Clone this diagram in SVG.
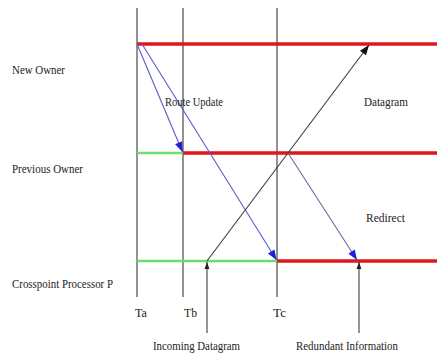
<svg xmlns="http://www.w3.org/2000/svg" width="437" height="355" viewBox="0 0 437 355">
<defs>
<style>
text{font-family:"Liberation Serif","Times New Roman",serif;font-size:13px;fill:#222}
.time{stroke:#6e6e6e;stroke-width:1.5}
.red{stroke:#e0161b;stroke-width:3.5}
.green{stroke:#6fdc6f;stroke-width:2.5}
.blue{stroke:#5a5acf;stroke-width:1.1;fill:none}
.bgray{stroke:#6a6a9a;stroke-width:1.1;fill:none}
.dark{stroke:#3c3c3c;stroke-width:1.1;fill:none}
</style>
<marker id="ab" viewBox="0 0 10 10" refX="10" refY="5" markerWidth="11" markerHeight="10" markerUnits="userSpaceOnUse" orient="auto">
<path d="M0,1.2 L10,5 L0,8.8 z" fill="#1f1fd6"/>
</marker>
<marker id="ak" viewBox="0 0 10 10" refX="10" refY="5" markerWidth="11" markerHeight="10" markerUnits="userSpaceOnUse" orient="auto">
<path d="M0,1.2 L10,5 L0,8.8 z" fill="#111"/>
</marker>
<marker id="ak2" viewBox="0 0 10 10" refX="10" refY="5" markerWidth="7" markerHeight="7" markerUnits="userSpaceOnUse" orient="auto">
<path d="M0,1.5 L10,5 L0,8.5 z" fill="#222"/>
</marker>
</defs>
<rect width="437" height="355" fill="#fff"/>
<g id="timelines">
<line class="time" x1="137" y1="8" x2="137" y2="297"/>
<line class="time" x1="183" y1="8" x2="183" y2="297"/>
<line class="time" x1="277" y1="8" x2="277" y2="297"/>
</g>
<g id="new-owner">
<line class="red" x1="137" y1="44" x2="437" y2="44"/>
<text x="12" y="74" textLength="53" lengthAdjust="spacingAndGlyphs">New Owner</text>
</g>
<g id="previous-owner">
<line class="green" x1="137" y1="153" x2="183" y2="153"/>
<line class="red" x1="183" y1="153" x2="437" y2="153"/>
<text x="12" y="173" textLength="71" lengthAdjust="spacingAndGlyphs">Previous Owner</text>
</g>
<g id="crosspoint">
<line class="green" x1="137" y1="261" x2="277" y2="261"/>
<line class="red" x1="277" y1="261" x2="437" y2="261"/>
<text x="12" y="288" textLength="101" lengthAdjust="spacingAndGlyphs">Crosspoint Processor P</text>
</g>
<g id="connectors">
<line class="blue" x1="137" y1="44" x2="182.5" y2="152" marker-end="url(#ab)"/>
<line class="blue" x1="142" y1="44" x2="276.5" y2="260" marker-end="url(#ab)"/>
<line class="dark" x1="207" y1="261" x2="369" y2="45" marker-end="url(#ak)"/>
<line class="bgray" x1="288" y1="153" x2="357" y2="260" marker-end="url(#ab)"/>
<line class="dark" x1="207" y1="333" x2="207" y2="262" marker-end="url(#ak2)"/>
<line class="dark" x1="359" y1="333" x2="359" y2="262" marker-end="url(#ak2)"/>
</g>
<g id="labels">
<text x="165" y="106" textLength="58" lengthAdjust="spacingAndGlyphs">Route Update</text>
<text x="364" y="106" textLength="44" lengthAdjust="spacingAndGlyphs">Datagram</text>
<text x="366" y="222" textLength="39" lengthAdjust="spacingAndGlyphs">Redirect</text>
<text x="135" y="317" textLength="12" lengthAdjust="spacingAndGlyphs">Ta</text>
<text x="184" y="317" textLength="13" lengthAdjust="spacingAndGlyphs">Tb</text>
<text x="273" y="317" textLength="13" lengthAdjust="spacingAndGlyphs">Tc</text>
<text x="153" y="350" textLength="87" lengthAdjust="spacingAndGlyphs">Incoming Datagram</text>
<text x="296" y="350" textLength="102" lengthAdjust="spacingAndGlyphs">Redundant Information</text>
</g>
</svg>
